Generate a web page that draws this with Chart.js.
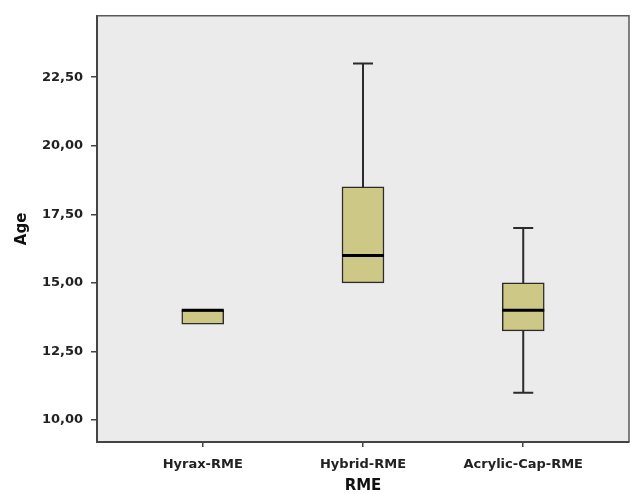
<!DOCTYPE html>
<html>
<head>
<meta charset="utf-8">
<script src="https://cdn.jsdelivr.net/npm/chart.js@4/dist/chart.umd.min.js"></script>
<style>
  html, body { margin: 0; padding: 0; background: #fff; }
  #wrap { width: 631px; height: 494px; }
</style>
</head>
<body>
<div id="wrap"><canvas id="boxplot"></canvas></div>
<script>
const groups = ['Hyrax-RME', 'Hybrid-RME', 'Acrylic-Cap-RME'];
const mins = [13.5, 15, 11];
const q1s = [13.5, 15, 13.25];
const medians = [14, 16, 14];
const q3s = [14, 18.5, 15];
const maxs = [14, 23, 17];
const yTicks = [10, 12.5, 15, 17.5, 20, 22.5];

const BOX_FILL = '#cec887';
const INK = '#2b2b2b';

function fmtTick(v) {
  return v.toFixed(2).replace('.', ',');
}

// grey panel behind the plot
const panelPlugin = {
  id: 'panel',
  beforeDraw(chart) {
    const { ctx, chartArea: a } = chart;
    ctx.save();
    ctx.fillStyle = '#ebebeb';
    ctx.fillRect(a.left, a.top, a.right - a.left, a.bottom - a.top);
    ctx.restore();
  },
  afterDraw(chart) {
    const { ctx, chartArea: a } = chart;
    ctx.save();
    ctx.strokeStyle = '#5a5a5a';
    ctx.lineWidth = 1.5;
    ctx.beginPath();
    ctx.moveTo(a.left, a.top);
    ctx.lineTo(a.right, a.top);
    ctx.lineTo(a.right, a.bottom);
    ctx.stroke();
    ctx.restore();
  }
};

// whiskers behind the boxes, medians on top
const whiskerPlugin = {
  id: 'whiskers',
  beforeDatasetsDraw(chart) {
    const { ctx, scales: { x, y } } = chart;
    ctx.save();
    ctx.strokeStyle = INK;
    ctx.lineWidth = 2;
    groups.forEach((g, i) => {
      const px = x.getPixelForValue(i);
      const capHalf = 10;
      if (maxs[i] > q3s[i]) {
        ctx.beginPath();
        ctx.moveTo(px, y.getPixelForValue(q3s[i]));
        ctx.lineTo(px, y.getPixelForValue(maxs[i]));
        ctx.moveTo(px - capHalf, y.getPixelForValue(maxs[i]));
        ctx.lineTo(px + capHalf, y.getPixelForValue(maxs[i]));
        ctx.stroke();
      }
      if (mins[i] < q1s[i]) {
        ctx.beginPath();
        ctx.moveTo(px, y.getPixelForValue(q1s[i]));
        ctx.lineTo(px, y.getPixelForValue(mins[i]));
        ctx.moveTo(px - capHalf, y.getPixelForValue(mins[i]));
        ctx.lineTo(px + capHalf, y.getPixelForValue(mins[i]));
        ctx.stroke();
      }
    });
    ctx.restore();
  },
  afterDatasetsDraw(chart) {
    const { ctx, scales: { y } } = chart;
    const meta = chart.getDatasetMeta(0);
    ctx.save();
    ctx.strokeStyle = '#000';
    ctx.lineWidth = 3;
    groups.forEach((g, i) => {
      const bar = meta.data[i];
      const half = bar.width / 2;
      const py = y.getPixelForValue(medians[i]);
      ctx.beginPath();
      ctx.moveTo(bar.x - half, py);
      ctx.lineTo(bar.x + half, py);
      ctx.stroke();
    });
    ctx.restore();
  }
};

const boxes = groups.map((g, i) => ({ x: i, y: [q1s[i], q3s[i]] }));

new Chart(document.getElementById('boxplot'), {
  type: 'bar',
  data: {
    datasets: [{
      data: boxes,
      backgroundColor: BOX_FILL,
      borderColor: INK,
      borderWidth: 1.5,
      borderSkipped: false,
      barThickness: 42
    }]
  },
  options: {
    responsive: true,
    maintainAspectRatio: false,
    animation: false,
    layout: { padding: { top: 12, right: 2, left: 0, bottom: 0 } },
    plugins: {
      legend: { display: false },
      tooltip: { enabled: false }
    },
    scales: {
      x: {
        type: 'linear',
        offset: false,
        min: -0.66,
        max: 2.66,
        afterBuildTicks(scale) {
          scale.ticks = groups.map((g, i) => ({ value: i }));
        },
        afterFit(scale) { scale.height = 52; },
        ticks: {
          callback: (v) => groups[v],
          color: '#222',
          font: { family: 'DejaVu Sans', size: 13, weight: 'bold' },
          padding: 10,
          maxRotation: 0,
          autoSkip: false
        },
        grid: {
          offset: false,
          drawOnChartArea: false,
          drawTicks: true,
          tickLength: 5,
          color: '#444',
          lineWidth: 1.5
        },
        border: { color: '#444', width: 2 },
        title: {
          display: true,
          text: 'RME',
          color: '#111',
          font: { family: 'DejaVu Sans', size: 15, weight: 'bold', lineHeight: 1.0 },
          padding: { top: 0, bottom: 0 }
        }
      },
      y: {
        min: 9.2,
        max: 24.74,
        afterBuildTicks(scale) {
          scale.ticks = yTicks.map((v) => ({ value: v }));
        },
        afterFit(scale) { scale.width = 97; },
        ticks: {
          callback: (v) => fmtTick(v),
          color: '#222',
          font: { family: 'DejaVu Sans', size: 13, weight: 'bold' },
          padding: 8
        },
        grid: {
          drawOnChartArea: false,
          drawTicks: true,
          tickLength: 6,
          color: '#444',
          lineWidth: 1.5
        },
        border: { color: '#444', width: 2 },
        title: {
          display: true,
          text: 'Age',
          color: '#111',
          font: { family: 'DejaVu Sans', size: 15, weight: 'bold' },
          padding: { top: 13, bottom: 0 }
        }
      }
    }
  },
  plugins: [panelPlugin, whiskerPlugin]
});
</script>
</body>
</html>
